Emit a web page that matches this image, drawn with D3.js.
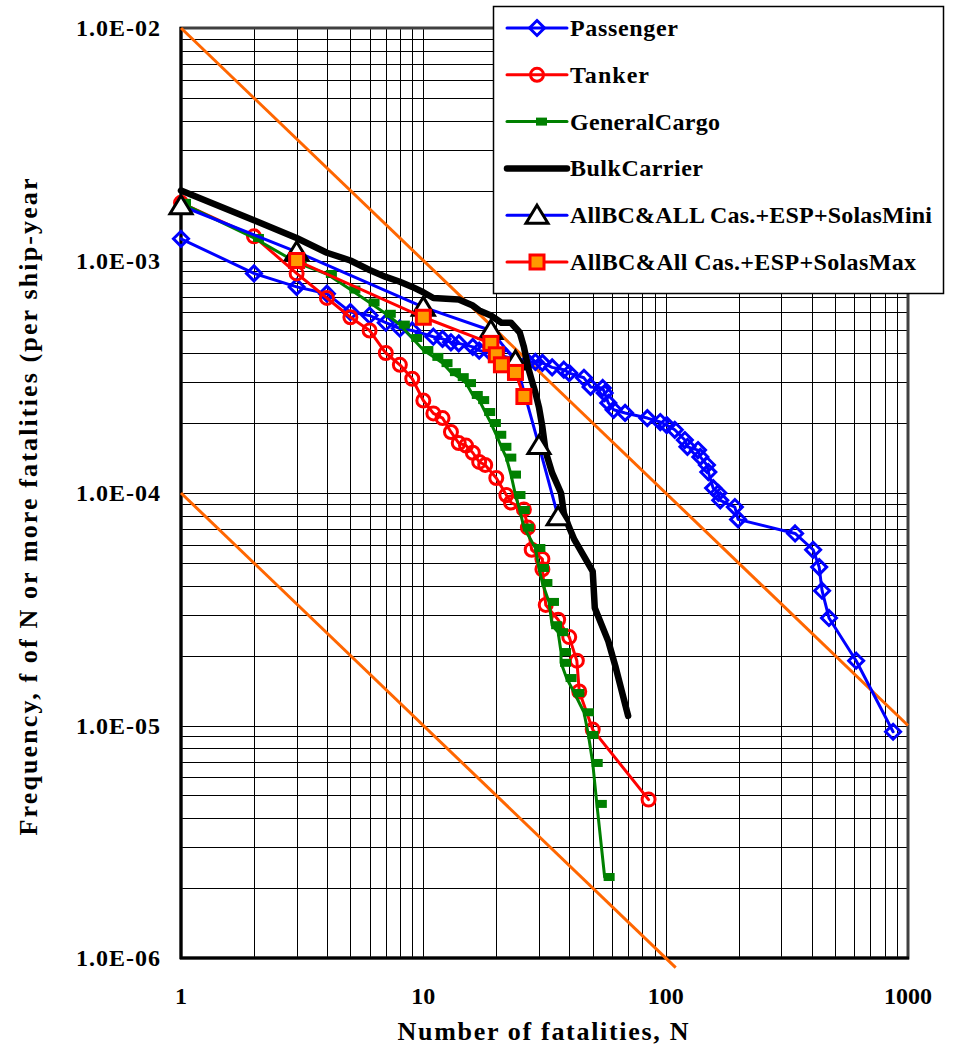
<!DOCTYPE html>
<html>
<head>
<meta charset="utf-8">
<script src="https://cdn.jsdelivr.net/npm/d3@7"></script>
<style>
  body { margin: 0; background: #fff; }
  text { font-family: "Liberation Serif", "Times New Roman", serif; font-weight: bold; fill: #000; }
</style>
</head>
<body>
<script>
// N (fatalities) vs f (frequency per ship-year)
const passenger = [[1,1.24e-3],[2,8.8e-4],[3,7.7e-4],[4,7.2e-4],[5,6.0e-4],[6,5.8e-4],[7,5.4e-4],[8,5.1e-4],[9,5.0e-4],
  [11,4.7e-4],[12,4.6e-4],[13,4.45e-4],[14,4.4e-4],[16,4.25e-4],[17,4.1e-4],[19,4.0e-4],[22,3.85e-4],[27,3.66e-4],
  [29,3.66e-4],[31,3.63e-4],[34,3.47e-4],[38,3.39e-4],[40,3.28e-4],[46,3.13e-4],[49,2.86e-4],[55,2.83e-4],[56,2.69e-4],
  [58,2.44e-4],[61,2.28e-4],[68,2.21e-4],[84,2.1e-4],[95,2.02e-4],[101,1.96e-4],[109,1.87e-4],[120,1.69e-4],[123,1.58e-4],
  [136,1.53e-4],[139,1.43e-4],[148,1.32e-4],[150,1.23e-4],[157,1.05e-4],[165,1.0e-4],[168,9.3e-5],[193,8.7e-5],
  [199,7.7e-5],[342,6.7e-5],[406,5.7e-5],[430,4.8e-5],[442,3.8e-5],[472,2.9e-5],[611,1.9e-5],[868,9.4e-6]];

const tanker = [[1,1.77e-3],[2,1.27e-3],[3,8.8e-4],[4,6.9e-4],[5,5.7e-4],[6,5.0e-4],[7,4.0e-4],[8,3.56e-4],[9,3.1e-4],
  [10,2.5e-4],[11,2.2e-4],[12,2.1e-4],[13,1.83e-4],[14,1.64e-4],[15,1.6e-4],[16,1.49e-4],[17,1.36e-4],[18,1.32e-4],
  [20,1.16e-4],[22,9.8e-5],[23,9.1e-5],[26,8.5e-5],[27,7.1e-5],[28,5.7e-5],[31,5.2e-5],[31,4.7e-5],[32,3.3e-5],
  [36,2.85e-5],[40,2.4e-5],[43,1.9e-5],[44,1.4e-5],[50,9.6e-6],[85,4.8e-6]];

const generalCargo = [[1,1.77e-3],[2,1.25e-3],[3,9.8e-4],[4,8.75e-4],[5,7.5e-4],[6,6.6e-4],[7,5.9e-4],[8,5.3e-4],
  [9,4.64e-4],[10,4.12e-4],[11,3.85e-4],[12,3.62e-4],[13,3.31e-4],[14,3.15e-4],[15,2.97e-4],[16,2.64e-4],[17,2.51e-4],
  [18,2.23e-4],[19,2.0e-4],[20,1.78e-4],[21,1.58e-4],[22,1.42e-4],[23,1.2e-4],[24,9.8e-5],[25,8.45e-5],[26,7.1e-5],
  [29,5.8e-5],[30,4.76e-5],[31,4.1e-5],[33,3.4e-5],[34,2.7e-5],[36,2.52e-5],[37,2.07e-5],[37,1.86e-5],[39,1.6e-5],
  [42,1.38e-5],[46,1.14e-5],[48,9.1e-6],[50,6.9e-6],[52,4.6e-6],[56,2.23e-6]];

const bulkCarrier = [[1,2.0e-3],[2,1.49e-3],[3,1.25e-3],[4,1.08e-3],[5,1.0e-3],[6,9.1e-4],[7,8.5e-4],[8,8.1e-4],[9,7.7e-4],
  [10,7.3e-4],[11,6.9e-4],[14,6.8e-4],[16,6.4e-4],[17,6.1e-4],[19,5.8e-4],[21,5.4e-4],[23,5.4e-4],[25,4.9e-4],[26,4.25e-4],
  [27,3.5e-4],[28,3.06e-4],[29,2.7e-4],[30,2.34e-4],[31,1.92e-4],[32,1.5e-4],[34,1.22e-4],[37,1.0e-4],[38,8.2e-5],
  [40,7.1e-5],[42,6.3e-5],[50,4.6e-5],[51,3.2e-5],[58,2.3e-5],[62,1.8e-5],[70,1.1e-5]];

const solasMini = [[1,1.72e-3],[3,1.09e-3],[10,6.3e-4],[19,5.0e-4],[24,3.7e-4],[30,1.6e-4],[36,7.9e-5]];
const solasMax = [[3,1.0e-3],[10,5.7e-4],[19,4.4e-4],[20,3.93e-4],[21,3.56e-4],[24,3.3e-4],[26,2.6e-4]];

// criterion lines f = C / N
const upperCriterion = [[1,1e-2],[1000,1e-5]];
const lowerCriterion = [[1,1e-4],[110,9.09e-7]];

const xTickValues = [1, 10, 100, 1000];
const yTickValues = [1e-2, 1e-3, 1e-4, 1e-5, 1e-6];
const seriesNames = ["Passenger", "Tanker", "GeneralCargo", "BulkCarrier",
  "AllBC&ALL Cas.+ESP+SolasMini", "AllBC&All Cas.+ESP+SolasMax"];

const W = 955, H = 1049;
const plot = { left: 181, right: 908, top: 28, bottom: 958 };

const svg = d3.select("body").append("svg").attr("width", W).attr("height", H);

const x = d3.scaleLog().domain([1, 1000]).range([plot.left, plot.right]);
const y = d3.scaleLog().domain([1e-6, 1e-2]).range([plot.bottom, plot.top]);

// grid
const grid = svg.append("g").attr("shape-rendering", "crispEdges");
grid.selectAll(".vg").data(x.ticks()).enter().append("line")
  .attr("x1", d => Math.round(x(d)) + 0.5).attr("x2", d => Math.round(x(d)) + 0.5)
  .attr("y1", plot.top).attr("y2", plot.bottom)
  .attr("stroke", "#000").attr("stroke-width", 1);
grid.selectAll(".hg").data(y.ticks()).enter().append("line")
  .attr("y1", d => Math.round(y(d)) + 0.5).attr("y2", d => Math.round(y(d)) + 0.5)
  .attr("x1", plot.left).attr("x2", plot.right)
  .attr("stroke", "#000").attr("stroke-width", 1);

// frame
svg.append("rect").attr("x", plot.left).attr("y", plot.top)
  .attr("width", plot.right - plot.left).attr("height", plot.bottom - plot.top)
  .attr("fill", "none").attr("stroke", "#404040").attr("stroke-width", 3);
svg.append("line").attr("x1", plot.left).attr("x2", plot.left).attr("y1", plot.top - 1).attr("y2", plot.bottom + 1)
  .attr("stroke", "#000").attr("stroke-width", 3);
svg.append("line").attr("x1", plot.left - 1).attr("x2", plot.right + 1).attr("y1", plot.bottom).attr("y2", plot.bottom)
  .attr("stroke", "#000").attr("stroke-width", 3);

const line = d3.line().x(d => x(d[0])).y(d => y(d[1]));

// criterion lines
[upperCriterion, lowerCriterion].forEach(c => {
  svg.append("path").attr("d", line(c)).attr("fill", "none")
    .attr("stroke", "#FF6600").attr("stroke-width", 3);
});

const diamondPath = "M0,-7.5L7.5,0L0,7.5L-7.5,0Z";
const trianglePath = "M0,-10L11,8L-11,8Z";

const styles = [
  { data: passenger, color: "#0000FF", width: 3, marker: "diamond" },
  { data: tanker, color: "#FF0000", width: 3, marker: "circle" },
  { data: generalCargo, color: "#008000", width: 3, marker: "dash" },
  { data: bulkCarrier, color: "#000000", width: 6.5, marker: null },
  { data: solasMini, color: "#0000FF", width: 3, marker: "triangle" },
  { data: solasMax, color: "#FF0000", width: 3, marker: "square" }
];

function drawMarker(g, type, color) {
  if (type === "diamond") {
    g.append("path").attr("d", diamondPath).attr("fill", "none").attr("stroke", color).attr("stroke-width", 3);
  } else if (type === "circle") {
    g.append("circle").attr("r", 6.5).attr("fill", "none").attr("stroke", color).attr("stroke-width", 3);
  } else if (type === "dash") {
    g.append("rect").attr("x", -1).attr("y", -4).attr("width", 11).attr("height", 8).attr("fill", color);
  } else if (type === "triangle") {
    g.append("path").attr("d", trianglePath).attr("fill", "#fff").attr("stroke", "#000").attr("stroke-width", 3)
      .attr("stroke-linejoin", "miter");
  } else if (type === "square") {
    g.append("rect").attr("x", -7).attr("y", -7).attr("width", 14).attr("height", 14)
      .attr("fill", "#FF9900").attr("stroke", "#FF0000").attr("stroke-width", 3);
  }
}

styles.forEach(s => {
  svg.append("path").attr("d", line(s.data)).attr("fill", "none")
    .attr("stroke", s.color).attr("stroke-width", s.width)
    .attr("stroke-linejoin", "round").attr("stroke-linecap", "round");
  if (s.marker) {
    svg.append("g").selectAll("g").data(s.data).enter().append("g")
      .attr("transform", d => "translate(" + x(d[0]) + "," + y(d[1]) + ")")
      .each(function () { drawMarker(d3.select(this), s.marker, s.color); });
  }
});

// tick labels
const fmtY = v => "1.0E-0" + Math.abs(Math.round(Math.log10(v)));
svg.selectAll(".yl").data(yTickValues).enter().append("text")
  .attr("x", 160).attr("y", d => y(d) + 8)
  .attr("text-anchor", "end").attr("font-size", 24)
  .attr("textLength", 84).attr("lengthAdjust", "spacing")
  .text(fmtY);
svg.selectAll(".xl").data(xTickValues).enter().append("text")
  .attr("x", d => x(d)).attr("y", 1004)
  .attr("text-anchor", "middle").attr("font-size", 24)
  .text(d => d);

// axis titles
svg.append("text").attr("x", 543).attr("y", 1040).attr("text-anchor", "middle")
  .attr("font-size", 26).attr("textLength", 291).attr("lengthAdjust", "spacing")
  .text("Number of fatalities, N");
svg.append("text").attr("transform", "translate(37,507) rotate(-90)").attr("text-anchor", "middle")
  .attr("font-size", 26).attr("textLength", 657).attr("lengthAdjust", "spacing")
  .text("Frequency, f of N or more fatalities (per ship-year");

// legend
const legend = svg.append("g");
legend.append("rect").attr("x", 493.5).attr("y", 6.5).attr("width", 450).attr("height", 287)
  .attr("fill", "#fff").attr("stroke", "#000").attr("stroke-width", 1.5);
const legendWidths = [108, 79, 150, 133, 362, 346];
styles.forEach((s, i) => {
  const cy = 28 + i * 46.8;
  const g = legend.append("g");
  g.append("line").attr("x1", 507).attr("x2", 567).attr("y1", cy).attr("y2", cy)
    .attr("stroke", s.color).attr("stroke-width", s.width).attr("stroke-linecap", "round");
  if (s.marker) {
    const m = g.append("g").attr("transform", "translate(537," + cy + ")");
    drawMarker(m, s.marker, s.color);
  }
  g.append("text").attr("x", 570).attr("y", cy + 8).attr("font-size", 24)
    .attr("textLength", legendWidths[i]).attr("lengthAdjust", "spacing")
    .text(seriesNames[i]);
});
</script>
</body>
</html>
